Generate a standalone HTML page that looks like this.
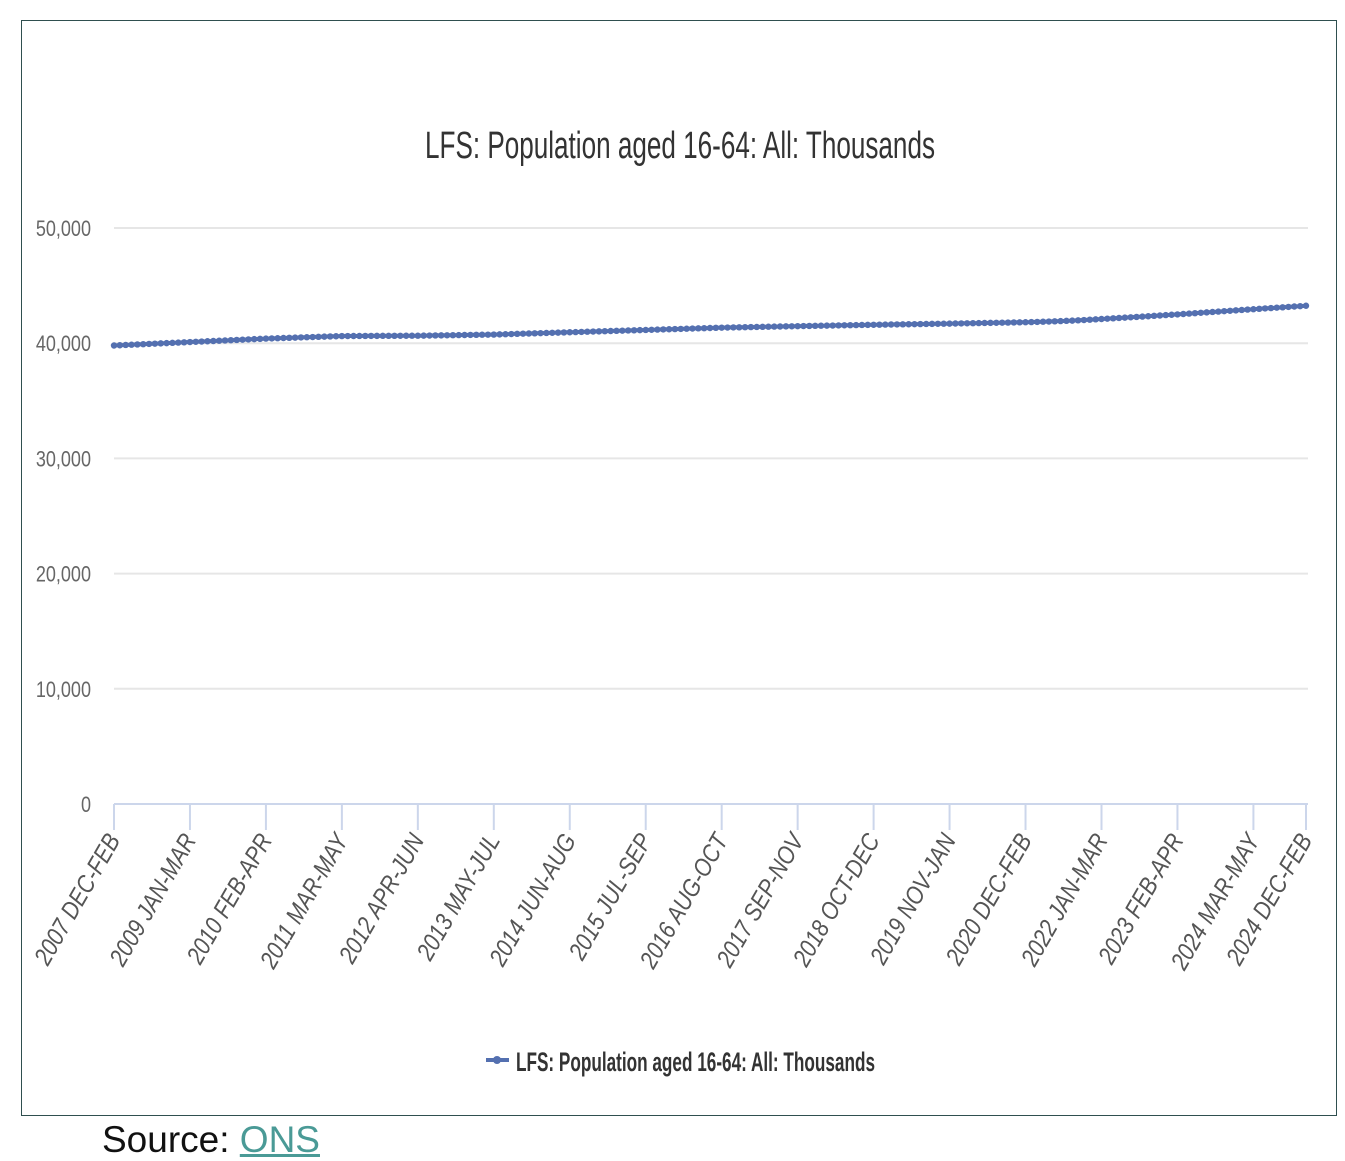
<!DOCTYPE html>
<html><head><meta charset="utf-8">
<style>
html,body{margin:0;padding:0;background:#fff;width:1345px;height:1161px;overflow:hidden}
#frame{position:absolute;left:21px;top:20px;width:1316px;height:1096px;border:1.5px solid #2f4f4f;box-sizing:border-box}
#src{position:absolute;left:102px;top:1119px;font:37px "Liberation Sans",sans-serif;color:#111}
#src a{color:#4a9a96;text-decoration:underline}
</style></head><body>
<div id="frame"></div>
<svg id="chart" width="1345" height="1161" style="position:absolute;left:0;top:0"></svg>
<div id="src">Source: <a>ONS</a></div>
<script>
const yTicks=[0,10000,20000,30000,40000,50000];
const yTickLabels=["0","10,000","20,000","30,000","40,000","50,000"];
const tickIdx=[0,13,26,39,52,65,78,91,104,117,130,143,156,169,182,195,204];
const tickLabels=["2007 DEC-FEB","2009 JAN-MAR","2010 FEB-APR","2011 MAR-MAY","2012 APR-JUN","2013 MAY-JUL","2014 JUN-AUG","2015 JUL-SEP","2016 AUG-OCT","2017 SEP-NOV","2018 OCT-DEC","2019 NOV-JAN","2020 DEC-FEB","2022 JAN-MAR","2023 FEB-APR","2024 MAR-MAY","2024 DEC-FEB"];
const values=[39800,39823,39846,39869,39892,39915,39938,39961,39984,40007,40030,40053,40076,
40100,40123,40146,40169,40192,40215,40238,40261,40284,40307,40330,40353,40376,
40400,40417,40434,40451,40468,40485,40502,40519,40536,40553,40570,40587,40604,
40620,40623,40625,40628,40630,40632,40635,40637,40640,40642,40644,40646,40648,
40650,40658,40665,40673,40680,40688,40696,40704,40712,40720,40727,40735,40743,
40750,40765,40781,40796,40812,40827,40842,40858,40873,40888,40904,40919,40935,
40950,40965,40981,40996,41012,41027,41042,41058,41073,41088,41104,41119,41135,
41150,41165,41181,41196,41212,41227,41242,41258,41273,41288,41304,41319,41335,
41350,41360,41370,41380,41390,41400,41410,41420,41430,41440,41450,41460,41470,
41480,41489,41498,41508,41517,41526,41535,41545,41554,41563,41572,41582,41591,
41600,41608,41615,41623,41631,41638,41646,41654,41662,41669,41677,41685,41692,
41700,41709,41718,41728,41737,41746,41755,41765,41774,41783,41792,41802,41811,
41820,41835,41850,41865,41880,41900,41920,41940,41960,41985,42010,42040,42070,
42100,42130,42160,42190,42220,42250,42280,42310,42340,42375,42405,42440,42470,
42500,42535,42570,42605,42640,42675,42710,42745,42780,42815,42850,42885,42920,
42950,42985,43020,43050,43085,43115,43150,43185,43215,43250];
const seriesName="LFS: Population aged 16-64: All: Thousands";

const NS="http://www.w3.org/2000/svg";
const svg=document.getElementById('chart');
const X0=114,X1=1306,Y0=804,Y1=228;
const x=i=>X0+(X1-X0)*i/(values.length-1);
const y=v=>Y0-(Y0-Y1)*v/50000;
function mk(t,a,txt){const e=document.createElementNS(NS,t);for(const k in a)e.setAttribute(k,a[k]);if(txt!==undefined)e.textContent=txt;svg.appendChild(e);return e;}
let e;
e=mk('text',{x:680,y:158,'text-anchor':'middle','font-family':'Liberation Sans Narrow, Liberation Sans, sans-serif','font-size':38,fill:'#333',textLength:510,lengthAdjust:'spacingAndGlyphs'},seriesName);


yTicks.forEach((v,i)=>{
  if(v>0){const g=mk('line',{x1:X0,x2:1308,y1:y(v),y2:y(v),stroke:'#e6e6e6','stroke-width':2});
  
  }
  const t=mk('text',{x:91,y:y(v)+8,'text-anchor':'end','font-family':'Liberation Sans Narrow, Liberation Sans, sans-serif','font-size':22,fill:'#666',transform:`translate(91,0) scale(0.82,1) translate(-91,0)`},yTickLabels[i]);
  
  
});
e=mk('line',{x1:X0,x2:1308,y1:Y0,y2:Y0,stroke:'#ccd6eb','stroke-width':2});


tickIdx.forEach((ix,k)=>{
  const tx=x(ix);
  const l=mk('line',{x1:tx,x2:tx,y1:Y0,y2:830,stroke:'#ccd6eb','stroke-width':2});
  
  
  const t=mk('text',{x:0,y:0,'text-anchor':'end','font-family':'Liberation Sans Narrow, Liberation Sans, sans-serif','font-size':25,'font-style':'italic',fill:'#555',transform:`translate(${tx+7},${840}) rotate(-60) scale(0.85,1)`},tickLabels[k]);
  
  
});
const pts=values.map((v,i)=>x(i).toFixed(1)+','+y(v).toFixed(1)).join(' ');
e=mk('polyline',{points:pts,fill:'none',stroke:'#5470b0','stroke-width':4});


values.forEach((v,i)=>{
  const c=mk('circle',{cx:x(i),cy:y(v),r:3.2,fill:'#5470b0'});
  
  
});
e=mk('line',{x1:486,x2:509,y1:1060,y2:1060,stroke:'#5470b0','stroke-width':4});


e=mk('circle',{cx:497,cy:1060,r:4,fill:'#5470b0'});


e=mk('text',{x:516,y:1071,'font-family':'Liberation Sans Narrow, Liberation Sans, sans-serif','font-size':27,'font-weight':'bold',fill:'#333',textLength:359,lengthAdjust:'spacingAndGlyphs'},seriesName);


</script>
</body></html>
